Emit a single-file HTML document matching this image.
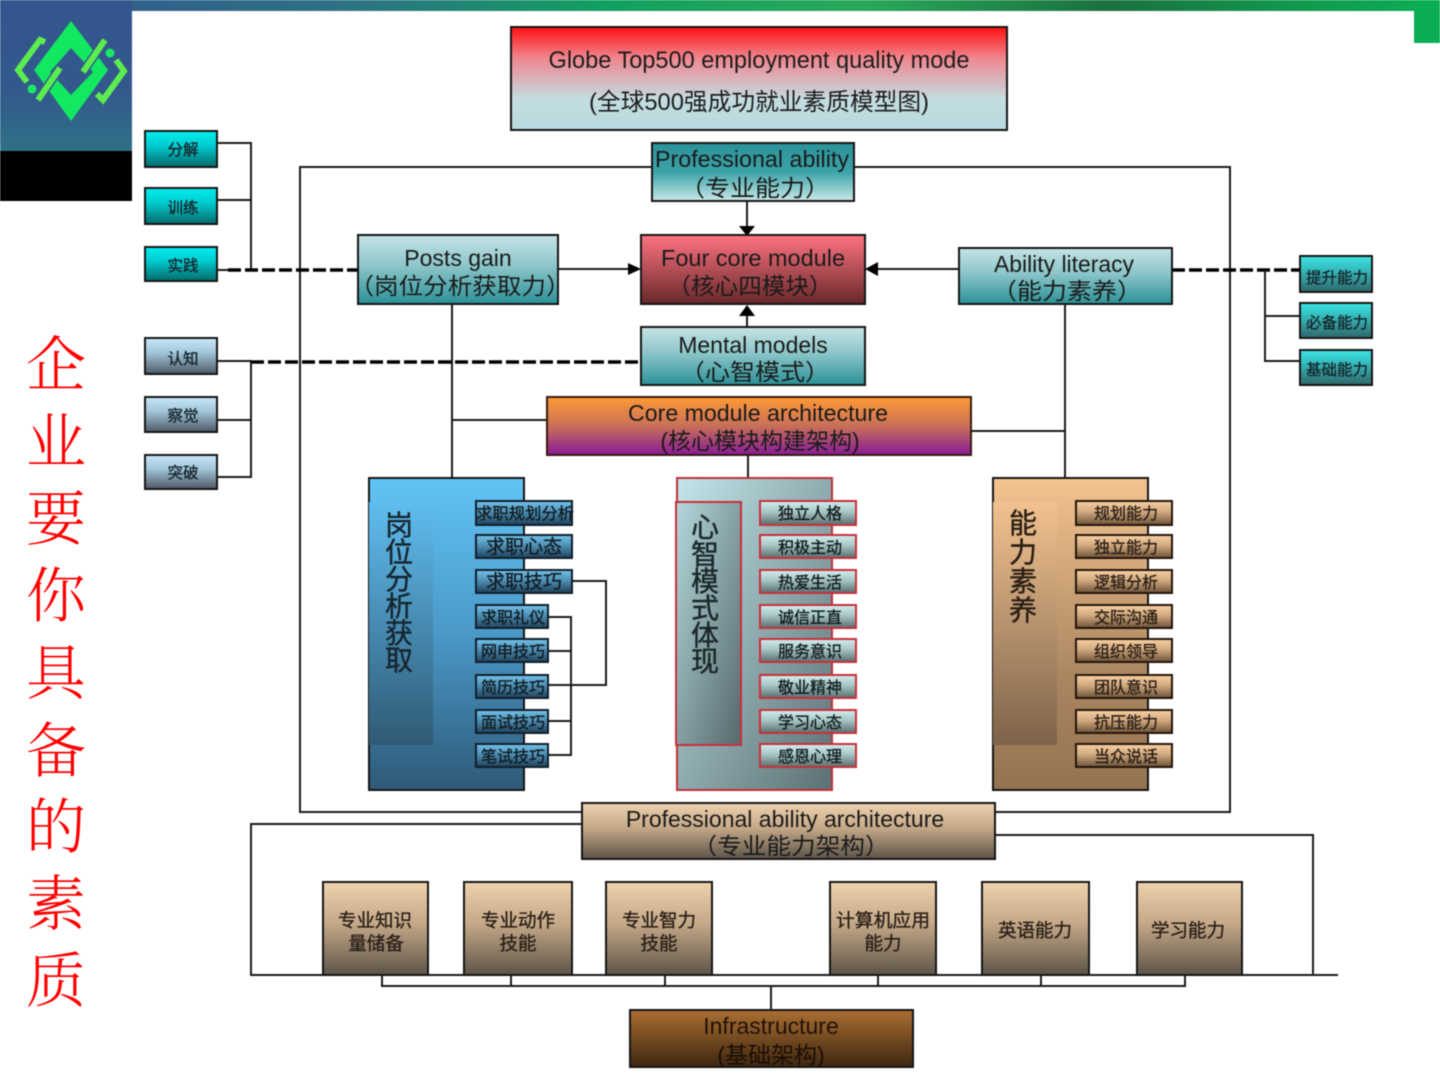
<!DOCTYPE html>
<html lang="zh">
<head>
<meta charset="utf-8">
<title>Globe Top500 employment quality mode</title>
<style>
html,body{margin:0;padding:0;background:#fff;width:1440px;height:1080px;overflow:hidden}
svg{display:block;position:absolute;left:0;top:0;filter:blur(.55px)}
text{font-family:"Liberation Sans","Noto Sans CJK SC",sans-serif;text-anchor:middle;fill:#1d1d1d}
.ln{stroke:#1a1a1a;stroke-width:2;fill:none}
.ds{stroke:#000;stroke-width:3.4;stroke-dasharray:13 4;fill:none}
.b{stroke:#161616;stroke-width:2}
.lg{font-size:24px;fill:#1c1c1c}
.md{font-size:23px;fill:#1a1a1a}
.s{font-size:15.5px;fill:#16262c;stroke:#16262c;stroke-width:.35px}
.it{font-size:16px;fill:#101c22;stroke:#101c22;stroke-width:.35px}
.tt{font-size:18.5px;fill:#2a2018;stroke:#2a2018;stroke-width:.35px}
.c{font-size:28px;fill:#16262f;stroke:#16262f;stroke-width:.4px}
.r{font-family:"Liberation Serif","Noto Serif CJK SC",serif;font-size:60px;fill:#f00;font-weight:300}
</style>
</head>
<body>
<svg width="1440" height="1080" viewBox="0 0 1440 1080" xmlns="http://www.w3.org/2000/svg">
<defs>
<linearGradient id="bar"><stop offset="0" stop-color="#33568f"/><stop offset=".25" stop-color="#2d7383"/><stop offset=".42" stop-color="#12a060"/><stop offset=".6" stop-color="#2aa85a"/><stop offset=".77" stop-color="#1b7040"/><stop offset=".9" stop-color="#12994f"/><stop offset="1" stop-color="#0cae55"/></linearGradient>
<linearGradient id="pan" x2="0" y2="1"><stop offset="0" stop-color="#34568f"/><stop offset=".6" stop-color="#33598c"/><stop offset="1" stop-color="#2f7186"/></linearGradient>
<linearGradient id="cy" x2="0" y2="1"><stop offset="0" stop-color="#00eef0"/><stop offset=".4" stop-color="#00cdd0"/><stop offset="1" stop-color="#056a6c"/></linearGradient>
<linearGradient id="gb" x2="0" y2="1"><stop offset="0" stop-color="#c8e8f8"/><stop offset=".4" stop-color="#a3c6da"/><stop offset="1" stop-color="#4f5a66"/></linearGradient>
<linearGradient id="rs" x2="0" y2="1"><stop offset="0" stop-color="#3ce4e4"/><stop offset=".4" stop-color="#34b8ba"/><stop offset="1" stop-color="#2f666a"/></linearGradient>
<linearGradient id="pt" x2="0" y2="1"><stop offset="0" stop-color="#c6e4e6"/><stop offset=".45" stop-color="#8cc6c9"/><stop offset="1" stop-color="#2a9197"/></linearGradient>
<linearGradient id="pr" x2="0" y2="1"><stop offset="0" stop-color="#2b9299"/><stop offset=".5" stop-color="#3ba3a8"/><stop offset="1" stop-color="#c9e8e8"/></linearGradient>
<linearGradient id="rd" x2="0" y2="1"><stop offset="0" stop-color="#ff7482"/><stop offset="1" stop-color="#67282a"/></linearGradient>
<linearGradient id="ti" x2="0" y2="1"><stop offset="0" stop-color="#ff1010"/><stop offset=".3" stop-color="#f0868e"/><stop offset=".7" stop-color="#c4dde2"/><stop offset="1" stop-color="#b8dade"/></linearGradient>
<linearGradient id="or" x2="0" y2="1"><stop offset="0" stop-color="#ff9a35"/><stop offset=".5" stop-color="#c87058"/><stop offset="1" stop-color="#881a98"/></linearGradient>
<linearGradient id="bc" x2="0" y2="1"><stop offset="0" stop-color="#62c4f6"/><stop offset=".5" stop-color="#4a98c8"/><stop offset="1" stop-color="#2f5a78"/></linearGradient>
<linearGradient id="bi" x2="0" y2="1"><stop offset="0" stop-color="#60bdf0"/><stop offset="1" stop-color="#2f5a74"/></linearGradient>
<linearGradient id="gc" x1="0" y1="0" x2="1" y2="1"><stop offset="0" stop-color="#c2e6ea"/><stop offset="1" stop-color="#5c7074"/></linearGradient>
<linearGradient id="gi" x1="0" y1="0" x2="1" y2="1"><stop offset="0" stop-color="#b4d8dc"/><stop offset="1" stop-color="#56686c"/></linearGradient>
<linearGradient id="tc" x2="0" y2="1"><stop offset="0" stop-color="#f4c390"/><stop offset=".65" stop-color="#a98560"/><stop offset="1" stop-color="#94744f"/></linearGradient>
<linearGradient id="ti2" x2="0" y2="1"><stop offset="0" stop-color="#f2c290"/><stop offset="1" stop-color="#7d634a"/></linearGradient>
<linearGradient id="bs" x2="0" y2="1"><stop offset="0" stop-color="#74c2ea"/><stop offset=".45" stop-color="#4f90b6"/><stop offset="1" stop-color="#1f4058"/></linearGradient>
<linearGradient id="gs" x2="0" y2="1"><stop offset="0" stop-color="#d4eeee"/><stop offset=".45" stop-color="#a8c6c6"/><stop offset="1" stop-color="#586c6c"/></linearGradient>
<linearGradient id="ts" x2="0" y2="1"><stop offset="0" stop-color="#f8d0a2"/><stop offset=".45" stop-color="#d3aa80"/><stop offset="1" stop-color="#6b5238"/></linearGradient>
<linearGradient id="pa" x2="0" y2="1"><stop offset="0" stop-color="#efd2ae"/><stop offset=".45" stop-color="#c4a888"/><stop offset="1" stop-color="#5c5448"/></linearGradient>
<linearGradient id="in" x2="0" y2="1"><stop offset="0" stop-color="#ab6f32"/><stop offset="1" stop-color="#3e2610"/></linearGradient>
</defs>

<!-- chrome -->
<rect x="0" y="0" width="1440" height="11" fill="url(#bar)"/>
<rect x="0" y="0" width="132" height="151" fill="url(#pan)"/>
<rect x="0" y="151" width="132" height="50" fill="#000"/>
<rect x="1414" y="0" width="26" height="43" fill="#0cae55"/>

<!-- logo -->
<path fill-rule="evenodd" fill="#12e860" d="M71 21L108 70L71 121L34 70ZM71 48L50 72L71 95L93 72Z"/>
<g fill="none" stroke="#33598c" stroke-width="9"><path d="M105 40L83 72M60 68L38 100"/></g>
<g fill="none" stroke="#5ced50" stroke-width="6"><path d="M105 40L83 72M60 68L38 100"/><path d="M45 42L40 40L18 70L27 82"/><path d="M116 60L124 71L103 100L97 94"/></g>
<circle cx="110" cy="53" r="4.5" fill="#1be868"/><circle cx="32" cy="89" r="4.5" fill="#1be868"/>

<!-- red vertical title -->
<text class="r" x="56" y="386">企</text>
<text class="r" x="56" y="463">业</text>
<text class="r" x="56" y="540">要</text>
<text class="r" x="56" y="617">你</text>
<text class="r" x="56" y="694">具</text>
<text class="r" x="56" y="772">备</text>
<text class="r" x="56" y="848">的</text>
<text class="r" x="56" y="925">素</text>
<text class="r" x="56" y="1002">质</text>

<!-- connectors -->
<rect x="300" y="167" width="930" height="645" class="ln"/>
<path class="ln" d="M217 143H251V270M217 200H251M217 270H240"/>
<path class="ds" d="M228 270H358"/>
<path class="ln" d="M217 361H251V477H217M251 420H217"/>
<path class="ds" d="M251 362H641"/>
<path class="ds" d="M1172 270H1300"/>
<path class="ln" d="M1265 270V361H1300M1265 316H1300"/>
<path class="ln" d="M452 304V478M452 420H547M1065 304V478M971 431H1065M748 455V478"/>
<path class="ln" d="M558 269H630M959 269H878M747 201V226M747 327V314"/>
<path fill="#000" d="M628 263L641 269L628 275ZM878 262L865 269L878 276ZM739 226H755L747 236ZM739 316H755L747 305Z"/>
<path class="ln" d="M572 581H606V685H548M548 617H571V755H548M548 651H571M548 721H571"/>
<path class="ln" d="M582 824H251V975H1338M995 835H1313V975"/>
<path class="ln" d="M382 975V986H1185V975M511 975V986M665 975V986M878 975V986M1041 975V986M771 986V1010"/>

<!-- title -->
<rect x="511" y="27" width="496" height="103" fill="url(#ti)" class="b"/>
<text class="lg" x="759" y="68" textLength="421" lengthAdjust="spacingAndGlyphs">Globe Top500 employment quality mode</text>
<text class="lg" x="759" y="110" textLength="340" lengthAdjust="spacingAndGlyphs">(全球500强成功就业素质模型图)</text>

<!-- left small -->
<rect x="145" y="131" width="72" height="36" fill="url(#cy)" class="b"/><text class="s" x="183" y="155">分解</text>
<rect x="145" y="188" width="72" height="36" fill="url(#cy)" class="b"/><text class="s" x="183" y="213">训练</text>
<rect x="145" y="247" width="72" height="34" fill="url(#cy)" class="b"/><text class="s" x="183" y="271">实践</text>
<rect x="145" y="338" width="72" height="36" fill="url(#gb)" class="b"/><text class="s" x="183" y="364">认知</text>
<rect x="145" y="397" width="72" height="35" fill="url(#gb)" class="b"/><text class="s" x="183" y="421">察觉</text>
<rect x="145" y="455" width="72" height="34" fill="url(#gb)" class="b"/><text class="s" x="183" y="478">突破</text>

<!-- right small -->
<rect x="1300" y="256" width="72" height="36" fill="url(#rs)" class="b"/><text class="s" x="1337" y="283">提升能力</text>
<rect x="1300" y="303" width="72" height="35" fill="url(#rs)" class="b"/><text class="s" x="1337" y="328">必备能力</text>
<rect x="1300" y="350" width="72" height="35" fill="url(#rs)" class="b"/><text class="s" x="1337" y="375">基础能力</text>

<!-- main nodes -->
<rect x="652" y="143" width="202" height="58" fill="url(#pr)" class="b"/>
<text class="md" x="752" y="167" textLength="194" lengthAdjust="spacingAndGlyphs">Professional ability</text>
<text class="md" x="755" y="196" textLength="150" lengthAdjust="spacingAndGlyphs">（专业能力）</text>

<rect x="358" y="235" width="200" height="69" fill="url(#pt)" class="b"/>
<text class="md" x="458" y="266">Posts gain</text>
<text class="md" x="460" y="294" textLength="221" lengthAdjust="spacingAndGlyphs">（岗位分析获取力）</text>

<rect x="641" y="235" width="224" height="69" fill="url(#rd)" class="b"/>
<text class="md" x="753" y="266" textLength="184" lengthAdjust="spacingAndGlyphs">Four core module</text>
<text class="md" x="750" y="294" textLength="165" lengthAdjust="spacingAndGlyphs">（核心四模块）</text>

<rect x="959" y="248" width="213" height="56" fill="url(#pt)" class="b"/>
<text class="md" x="1064" y="272" textLength="140" lengthAdjust="spacingAndGlyphs">Ability literacy</text>
<text class="md" x="1067" y="299" textLength="150" lengthAdjust="spacingAndGlyphs">（能力素养）</text>

<rect x="641" y="327" width="224" height="58" fill="url(#pt)" class="b"/>
<text class="md" x="753" y="353">Mental models</text>
<text class="md" x="755" y="380" textLength="150" lengthAdjust="spacingAndGlyphs">（心智模式）</text>

<rect x="547" y="397" width="424" height="58" fill="url(#or)" stroke="#3a1a10" stroke-width="2"/>
<text class="md" x="758" y="421" textLength="260" lengthAdjust="spacingAndGlyphs">Core module architecture</text>
<text class="md" x="760" y="449">(核心模块构建架构)</text>

<!-- columns -->
<rect x="369" y="478" width="155" height="312" fill="url(#bc)" class="b"/>
<rect x="369" y="502" width="64" height="243" fill="url(#bi)"/>
<text class="c" x="399" y="535">岗</text><text class="c" x="399" y="562">位</text><text class="c" x="399" y="589">分</text><text class="c" x="399" y="616">析</text><text class="c" x="399" y="643">获</text><text class="c" x="399" y="670">取</text>

<rect x="677" y="478" width="155" height="312" fill="url(#gc)" stroke="#c03038" stroke-width="2"/>
<rect x="676" y="502" width="65" height="243" fill="url(#gi)" stroke="#c8303a" stroke-width="2"/>
<g><text class="c" x="705" y="537" style="fill:#1c2827">心</text><text class="c" x="705" y="564" style="fill:#1c2827">智</text><text class="c" x="705" y="591" style="fill:#1c2827">模</text><text class="c" x="705" y="618" style="fill:#1c2827">式</text><text class="c" x="705" y="645" style="fill:#1c2827">体</text><text class="c" x="705" y="671" style="fill:#1c2827">现</text></g>

<rect x="993" y="478" width="155" height="312" fill="url(#tc)" class="b"/>
<rect x="993" y="502" width="64" height="243" fill="url(#ti2)"/>
<g><text class="c" x="1023" y="533" style="fill:#2a1f16;stroke:#2a1f16">能</text><text class="c" x="1023" y="562" style="fill:#2a1f16;stroke:#2a1f16">力</text><text class="c" x="1023" y="591" style="fill:#2a1f16;stroke:#2a1f16">素</text><text class="c" x="1023" y="620" style="fill:#2a1f16;stroke:#2a1f16">养</text></g>

<!-- left column items -->
<g stroke="#10202c" stroke-width="2" fill="url(#bs)">
<rect x="476" y="501" width="96" height="24"/><rect x="476" y="535" width="96" height="23"/><rect x="476" y="570" width="96" height="23"/>
<rect x="476" y="605" width="72" height="23"/><rect x="476" y="639" width="72" height="23"/><rect x="476" y="675" width="72" height="23"/><rect x="476" y="710" width="72" height="23"/><rect x="476" y="744" width="72" height="23"/>
</g>
<text class="it" x="525" y="519" textLength="98" lengthAdjust="spacingAndGlyphs">求职规划分析</text>
<text class="it" x="524" y="553" style="font-size:19px">求职心态</text>
<text class="it" x="524" y="588" style="font-size:19px">求职技巧</text>
<text class="it" x="513" y="623">求职礼仪</text>
<text class="it" x="513" y="657">网申技巧</text>
<text class="it" x="513" y="693">简历技巧</text>
<text class="it" x="513" y="728">面试技巧</text>
<text class="it" x="513" y="762">笔试技巧</text>

<!-- mid column items -->
<g stroke="#c8303a" stroke-width="2" fill="url(#gs)">
<rect x="760" y="501" width="96" height="24"/><rect x="760" y="535" width="96" height="23"/><rect x="760" y="570" width="96" height="23"/><rect x="760" y="605" width="96" height="23"/><rect x="760" y="639" width="96" height="23"/><rect x="760" y="675" width="96" height="23"/><rect x="760" y="710" width="96" height="23"/><rect x="760" y="744" width="96" height="23"/>
</g>
<text class="it" x="810" y="519">独立人格</text>
<text class="it" x="810" y="553">积极主动</text>
<text class="it" x="810" y="588">热爱生活</text>
<text class="it" x="810" y="623">诚信正直</text>
<text class="it" x="810" y="657">服务意识</text>
<text class="it" x="810" y="693">敬业精神</text>
<text class="it" x="810" y="728">学习心态</text>
<text class="it" x="810" y="762">感恩心理</text>

<!-- right column items -->
<g stroke="#24160c" stroke-width="2" fill="url(#ts)">
<rect x="1076" y="501" width="96" height="24"/><rect x="1076" y="535" width="96" height="23"/><rect x="1076" y="570" width="96" height="23"/><rect x="1076" y="605" width="96" height="23"/><rect x="1076" y="639" width="96" height="23"/><rect x="1076" y="675" width="96" height="23"/><rect x="1076" y="710" width="96" height="23"/><rect x="1076" y="744" width="96" height="23"/>
</g>
<text class="it" x="1126" y="519" style="fill:#2a1f16;stroke:#2a1f16">规划能力</text>
<text class="it" x="1126" y="553" style="fill:#2a1f16;stroke:#2a1f16">独立能力</text>
<text class="it" x="1126" y="588" style="fill:#2a1f16;stroke:#2a1f16">逻辑分析</text>
<text class="it" x="1126" y="623" style="fill:#2a1f16;stroke:#2a1f16">交际沟通</text>
<text class="it" x="1126" y="657" style="fill:#2a1f16;stroke:#2a1f16">组织领导</text>
<text class="it" x="1126" y="693" style="fill:#2a1f16;stroke:#2a1f16">团队意识</text>
<text class="it" x="1126" y="728" style="fill:#2a1f16;stroke:#2a1f16">抗压能力</text>
<text class="it" x="1126" y="762" style="fill:#2a1f16;stroke:#2a1f16">当众说话</text>

<!-- professional architecture -->
<rect x="582" y="803" width="413" height="56" fill="url(#pa)" class="b"/>
<text class="md" x="785" y="827">Professional ability architecture</text>
<text class="md" x="791" y="854" textLength="197" lengthAdjust="spacingAndGlyphs">（专业能力架构）</text>

<g fill="url(#pa)" class="b">
<rect x="323" y="882" width="105" height="93"/><rect x="464" y="882" width="108" height="93"/><rect x="606" y="882" width="106" height="93"/><rect x="830" y="882" width="106" height="93"/><rect x="982" y="882" width="107" height="93"/><rect x="1137" y="882" width="105" height="93"/>
</g>
<text class="tt" x="375" y="927">专业知识</text><text class="tt" x="376" y="950">量储备</text>
<text class="tt" x="518" y="927">专业动作</text><text class="tt" x="518" y="950">技能</text>
<text class="tt" x="659" y="927">专业智力</text><text class="tt" x="659" y="950">技能</text>
<text class="tt" x="883" y="927" textLength="94" lengthAdjust="spacingAndGlyphs">计算机应用</text><text class="tt" x="883" y="950">能力</text>
<text class="tt" x="1035" y="937">英语能力</text>
<text class="tt" x="1188" y="937">学习能力</text>

<!-- infrastructure -->
<rect x="630" y="1010" width="283" height="57" fill="url(#in)" class="b"/>
<text class="md" x="771" y="1034" style="fill:#1f1208">Infrastructure</text>
<text class="md" x="771" y="1063" style="fill:#1a0e05">(基础架构)</text>
</svg>
</body>
</html>
